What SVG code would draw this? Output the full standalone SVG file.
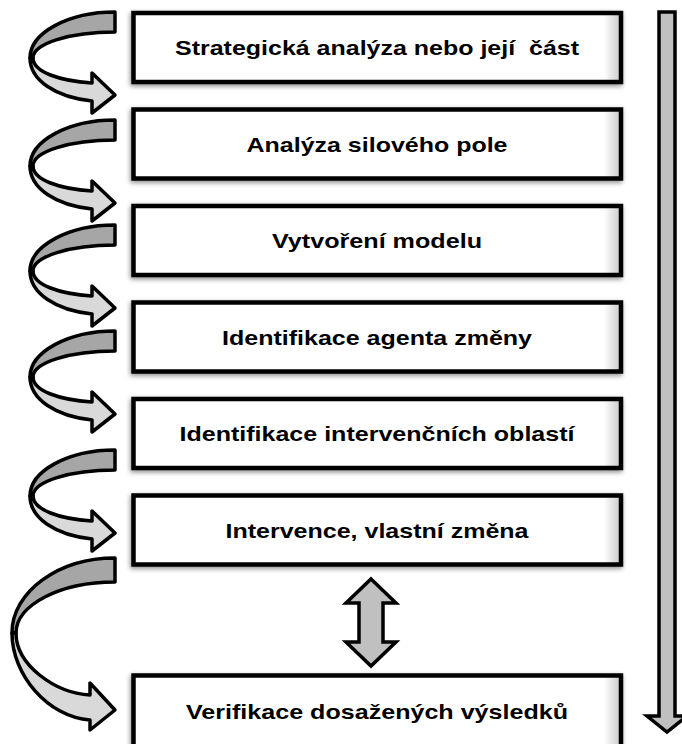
<svg xmlns="http://www.w3.org/2000/svg" width="682" height="744" viewBox="0 0 682 744">
<defs>
<style>
.box{fill:url(#boxfill);stroke:#000;stroke-width:4.5;filter:url(#shadow)}
.lbl{font-family:"Liberation Sans",Arial,sans-serif;font-weight:bold;font-size:21px;fill:#000;text-anchor:middle}
.back{fill:#a6a6a6;stroke:#000;stroke-width:3.5;stroke-linejoin:round}
.front{fill:#d9d9d9;stroke:#000;stroke-width:3.5;stroke-linejoin:round}
.blk{fill:#c0c0c0;stroke:#000;stroke-width:3.5;stroke-linejoin:miter}
</style>
<linearGradient id="boxfill" x1="0" y1="0" x2="1" y2="0">
<stop offset="0" stop-color="#fff"/>
<stop offset="0.965" stop-color="#fff"/>
<stop offset="1" stop-color="#c8c8c8"/>
</linearGradient>
<filter id="shadow" x="-5%" y="-20%" width="110%" height="140%">
<feGaussianBlur in="SourceAlpha" stdDeviation="2.5"/>
<feOffset dx="-1" dy="2" result="b"/>
<feComponentTransfer><feFuncA type="linear" slope="0.45"/></feComponentTransfer>
<feMerge><feMergeNode/><feMergeNode in="SourceGraphic"/></feMerge>
</filter>
<g id="curl">
<path class="back" d="M115,12 C68,12 30,33 30,58 L33,58 C33,43.6 69.7,32 115,32 Z"/>
<path class="front" d="M30,58 C30,80 55,97 92,101 L92,113 L115,95 L92,73 L92,83 C60,81 33,72 33,58 Z"/>
</g>
</defs>
<rect width="682" height="744" fill="#fff"/>

<g id="connectors">
<use href="#curl"/>
<use href="#curl" transform="translate(0,108)"/>
<use href="#curl" transform="translate(0,213)"/>
<use href="#curl" transform="translate(0,319)"/>
<use href="#curl" transform="translate(0,438)"/>
<g id="big-curl">
<path class="back" d="M115,558 C58,558 12,592 12,633 L16,633 C16,605 60,582 115,582 Z"/>
<path class="front" d="M12,633 C12,675 48,717 90,720 L90,730 L115,710 L90,683 L90,695 C55,693 16,665 16,633 Z"/>
</g>
<polygon id="double-arrow" class="blk" points="371,579 396,603 383,603 383,642 396,642 371,666 346,642 359,642 359,603 346,603"/>
<polygon id="timeline-arrow" class="blk" points="659,12 675,12 675,716 687,716 667,732 647,716 659,716"/>
</g>

<g id="n1"><rect class="box" x="133.5" y="13" width="487.5" height="69"/><text class="lbl" x="377" y="55" textLength="404" lengthAdjust="spacingAndGlyphs" xml:space="preserve">Strategická analýza nebo její  část</text></g>
<g id="n2"><rect class="box" x="133.5" y="109.5" width="487.5" height="69"/><text class="lbl" x="377" y="151.5" textLength="261" lengthAdjust="spacingAndGlyphs">Analýza silového pole</text></g>
<g id="n3"><rect class="box" x="133.5" y="206" width="487.5" height="69"/><text class="lbl" x="377" y="248" textLength="210" lengthAdjust="spacingAndGlyphs">Vytvoření modelu</text></g>
<g id="n4"><rect class="box" x="133.5" y="302.5" width="487.5" height="69"/><text class="lbl" x="377" y="344.5" textLength="310" lengthAdjust="spacingAndGlyphs">Identifikace agenta změny</text></g>
<g id="n5"><rect class="box" x="133.5" y="399" width="487.5" height="69"/><text class="lbl" x="377" y="441" textLength="395" lengthAdjust="spacingAndGlyphs">Identifikace intervenčních oblastí</text></g>
<g id="n6"><rect class="box" x="133.5" y="495.5" width="487.5" height="69"/><text class="lbl" x="377" y="537.5" textLength="303" lengthAdjust="spacingAndGlyphs">Intervence, vlastní změna</text></g>
<g id="n7"><rect class="box" x="133.5" y="675.5" width="487.5" height="80"/><text class="lbl" x="377" y="719" textLength="382" lengthAdjust="spacingAndGlyphs">Verifikace dosažených výsledků</text></g>
</svg>
